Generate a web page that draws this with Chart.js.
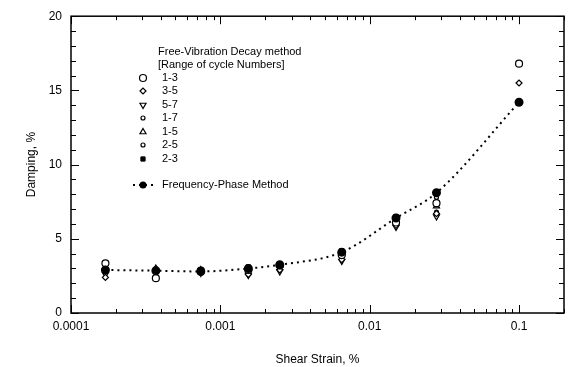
<!DOCTYPE html>
<html>
<head>
<meta charset="utf-8">
<script src="https://cdn.jsdelivr.net/npm/chart.js@4"></script>
<style>
  html, body { margin: 0; padding: 0; background: #fff; }
  #wrap { width: 570px; height: 367px; }
</style>
</head>
<body>
<div id="wrap"><canvas id="c" width="570" height="367"></canvas></div>
<script>
// shear strain (%) where each test was run
const STRAIN = [0.00017, 0.00037, 0.00074, 0.00154, 0.0025, 0.0065, 0.015, 0.028, 0.1]

// free-vibration decay, by range of cycle numbers
const FV_1_3 = [3.35, 2.35, 2.85, 2.9, 3.2, 3.9, 6.1, 7.4, 16.8]
const FV_3_5 = [2.4, 2.8, 2.75, 2.6, 2.9, 3.6, 5.9, 6.7, 15.5]
const FV_5_7 = [2.6, 2.7, 2.7, 2.55, 2.8, 3.5, 5.8, 6.5, null]
const FV_1_7 = [3.0, 2.9, 2.8, 2.9, 3.1, 3.8, 6.0, 6.8, null]
const FV_1_5 = [3.1, 3.0, 2.9, 3.0, 3.2, 4.0, 6.2, 7.2, null]
const FV_2_5 = [3.0, 3.0, 2.8, 3.0, 3.3, 4.0, 6.3, 7.8, null]
const FV_2_3 = [2.8, 2.9, 2.8, 3.1, 3.3, 4.2, 6.5, 8.0, 14.2]

// frequency-phase method
const FREQ_PHASE = [2.9, 2.85, 2.8, 3.0, 3.25, 4.1, 6.4, 8.1, 14.2]

const X_TICKS = [0.0001, 0.001, 0.01, 0.1]
const X_LABELS = ["0.0001", "0.001", "0.01", "0.1"]
const Y_TICKS = [0, 5, 10, 15, 20]

const FONT = "'Liberation Sans', Arial, sans-serif"

const pts = vals => STRAIN.map((x, i) => ({ x, y: vals[i] }))

const open = (label, vals, style, radius, rotation) => ({
  label, type: "scatter", data: pts(vals),
  pointStyle: style, pointRadius: radius, pointRotation: rotation || 0,
  pointBackgroundColor: "#fff", pointBorderColor: "#000", pointBorderWidth: 1.2,
  showLine: false, order: 2
})

const datasets = [
  open("1-3", FV_1_3, "circle", 3.5),
  open("3-5", FV_3_5, "rectRot", 3),
  open("5-7", FV_5_7, "triangle", 3.5, 180),
  open("1-7", FV_1_7, "circle", 2),
  open("1-5", FV_1_5, "triangle", 3.5),
  open("2-5", FV_2_5, "circle", 2),
  {
    label: "2-3", type: "scatter", data: pts(FV_2_3),
    pointStyle: "rect", pointRadius: 3,
    pointBackgroundColor: "#000", pointBorderColor: "#000", pointBorderWidth: 1,
    showLine: false, order: 1
  },
  {
    label: "Frequency-Phase Method", type: "line", data: pts(FREQ_PHASE),
    borderColor: "#000", borderWidth: 2, borderDash: [2, 4], borderCapStyle: "butt",
    cubicInterpolationMode: "monotone", fill: false,
    pointStyle: "circle", pointRadius: 3.5,
    pointBackgroundColor: "#000", pointBorderColor: "#000", order: 0
  }
]

// legend text block inside the plot, the way the original paper has it
const legendBox = {
  id: "legendBox",
  afterDatasetsDraw(chart) {
    const ctx = chart.ctx
    ctx.save()
    ctx.font = "11px " + FONT
    ctx.textBaseline = "middle"
    ctx.fillStyle = "#000"
    ctx.fillText("Free-Vibration Decay method", 158, 52)
    ctx.fillText("[Range of cycle Numbers]", 158, 65)
    const rows = [78, 91, 105, 118, 132, 145, 159]
    chart.data.datasets.slice(0, 7).forEach((ds, i) => {
      ctx.fillStyle = ds.pointBackgroundColor
      ctx.strokeStyle = ds.pointBorderColor
      ctx.lineWidth = ds.pointBorderWidth
      Chart.helpers.drawPoint(ctx, {
        pointStyle: ds.pointStyle, radius: ds.pointRadius, rotation: ds.pointRotation || 0,
        borderWidth: ds.pointBorderWidth
      }, 143, rows[i])
      ctx.fillStyle = "#000"
      ctx.fillText(ds.label, 162, rows[i])
    })
    // frequency-phase sample
    ctx.strokeStyle = "#000"
    ctx.setLineDash([2, 4])
    ctx.lineWidth = 2
    ctx.beginPath()
    ctx.moveTo(133, 185)
    ctx.lineTo(153, 185)
    ctx.stroke()
    ctx.setLineDash([])
    ctx.beginPath()
    ctx.arc(143, 185, 3.5, 0, Math.PI * 2)
    ctx.fill()
    ctx.fillText("Frequency-Phase Method", 162, 185)
    ctx.restore()
  }
}

// box frame with inward tick marks on all four sides
const frame = {
  id: "frame",
  afterDraw(chart) {
    const { ctx, chartArea: a, scales: { x, y } } = chart
    ctx.save()
    ctx.strokeStyle = "#000"
    ctx.lineWidth = 1.5
    ctx.strokeRect(a.left, a.top, a.right - a.left, a.bottom - a.top)
    ctx.lineWidth = 1
    ctx.beginPath()
    for (let v = 0; v <= 20; v++) {
      const py = Math.round(y.getPixelForValue(v)) + 0.5
      const len = v % 5 === 0 ? 8 : 5
      ctx.moveTo(a.left, py); ctx.lineTo(a.left + len, py)
      ctx.moveTo(a.right, py); ctx.lineTo(a.right - len, py)
    }
    for (let d = 0.0001; d < 0.3; d *= 10) {
      for (let m = 1; m <= 9; m++) {
        const v = d * m
        if (v > x.max * 1.0001) break
        const px = Math.round(x.getPixelForValue(v)) + 0.5
        const len = m === 1 ? 8 : 4
        ctx.moveTo(px, a.bottom); ctx.lineTo(px, a.bottom - len)
        ctx.moveTo(px, a.top); ctx.lineTo(px, a.top + len)
      }
    }
    ctx.stroke()
    ctx.restore()
  }
}

new Chart(document.getElementById("c"), {
  data: { datasets },
  plugins: [legendBox, frame],
  options: {
    responsive: false,
    animation: false,
    layout: { padding: { top: 16, right: 1, left: 0, bottom: 0 } },
    plugins: { legend: { display: false }, tooltip: { enabled: false } },
    scales: {
      x: {
        type: "logarithmic", min: 0.0001, max: 0.2,
        afterBuildTicks: s => { s.ticks = X_TICKS.map(v => ({ value: v })) },
        afterFit: s => { s.height = 54 },
        grid: { display: false, drawTicks: false, tickLength: 0 },
        border: { display: false },
        ticks: {
          color: "#000", font: { family: FONT, size: 12 }, padding: 6, maxRotation: 0,
          autoSkip: false,
          callback: v => X_LABELS[X_TICKS.indexOf(v)]
        },
        title: {
          display: true, text: "Shear Strain, %", color: "#000",
          font: { family: FONT, size: 12 }, padding: { top: 0, bottom: 0 }
        }
      },
      y: {
        min: 0, max: 20,
        afterBuildTicks: s => { s.ticks = Y_TICKS.map(v => ({ value: v })) },
        afterFit: s => { s.width = 71 },
        grid: { display: false, drawTicks: false, tickLength: 0 },
        border: { display: false },
        ticks: { color: "#000", font: { family: FONT, size: 12 }, padding: 9 },
        title: {
          display: true, text: "Damping, %", color: "#000",
          font: { family: FONT, size: 12 }, padding: { top: 24, bottom: 0 }
        }
      }
    }
  }
})
</script>
</body>
</html>
